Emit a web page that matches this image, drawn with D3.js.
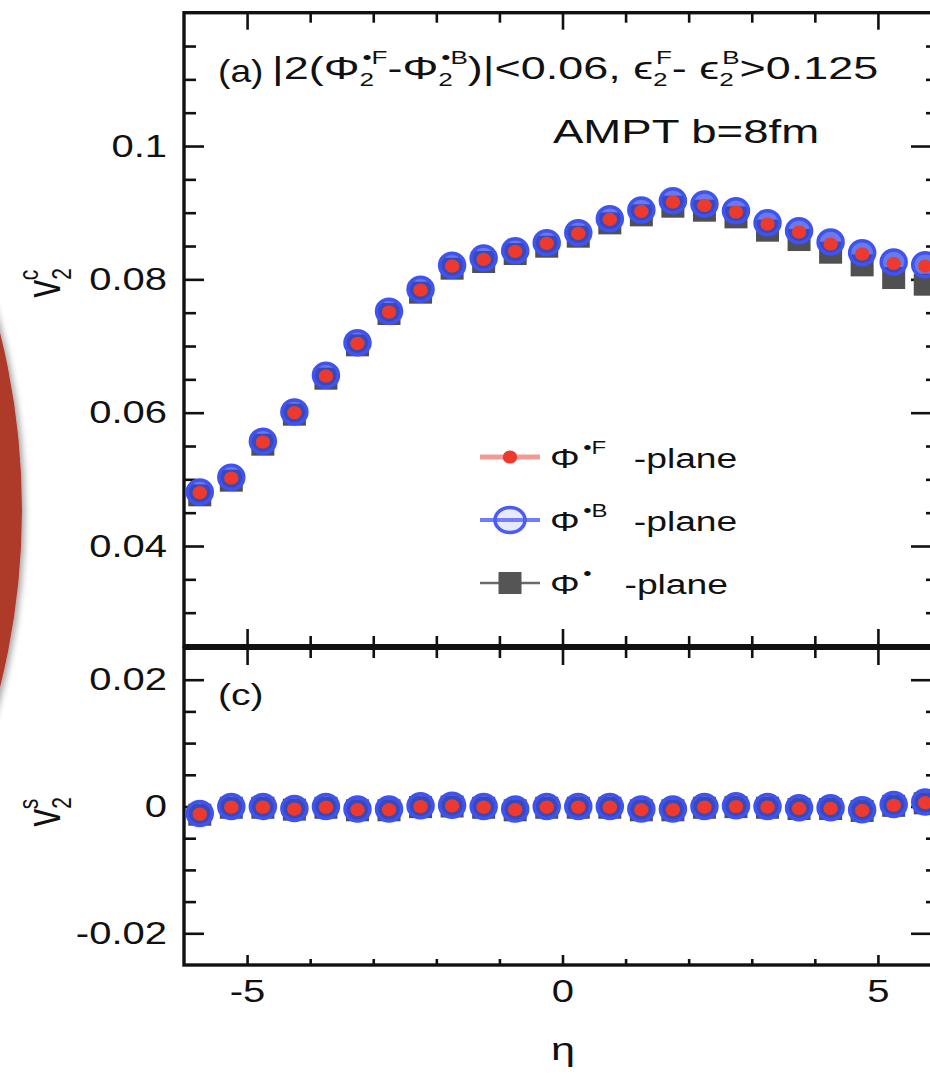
<!DOCTYPE html>
<html>
<head>
<meta charset="utf-8">
<script src="https://cdn.jsdelivr.net/npm/d3@7/dist/d3.min.js"></script>
<style>
  html, body { margin: 0; padding: 0; background: #fff; }
  svg { display: block; }
  text { font-family: "Liberation Sans", Arial, Helvetica, sans-serif; fill: #111; }
</style>
</head>
<body>
<svg id="chart" width="930" height="1074"></svg>
<script>
// pseudorapidity bins
const eta = [-5.75, -5.25, -4.75, -4.25, -3.75, -3.25, -2.75, -2.25, -1.75, -1.25, -0.75, -0.25,
             0.25, 0.75, 1.25, 1.75, 2.25, 2.75, 3.25, 3.75, 4.25, 4.75, 5.25, 5.75];

// panel (a): v2 cosine term
const v2cF = [0.0480, 0.0502, 0.0556, 0.0600, 0.0655, 0.0704, 0.0751, 0.0784, 0.0820, 0.0830, 0.0842, 0.0854,
              0.0869, 0.0890, 0.0902, 0.0916, 0.0911, 0.0901, 0.0883, 0.0871, 0.0853, 0.0838, 0.0824, 0.0820];
const v2cB = [0.0481, 0.0503, 0.0557, 0.0601, 0.0656, 0.0705, 0.0752, 0.0785, 0.0821, 0.0832, 0.0843, 0.0855,
              0.0870, 0.0891, 0.0904, 0.0918, 0.0913, 0.0903, 0.0885, 0.0873, 0.0856, 0.0840, 0.0826, 0.0822];
const v2c  = [0.0476, 0.0498, 0.0552, 0.0597, 0.0651, 0.0701, 0.0748, 0.0780, 0.0816, 0.0826, 0.0838, 0.0849,
              0.0864, 0.0884, 0.0896, 0.0909, 0.0903, 0.0893, 0.0873, 0.0859, 0.0840, 0.0821, 0.0802, 0.0792];

// panel (c): v2 sine term
const v2sF = [-0.0012, -0.0001, -0.0001, -0.0004, -0.0001, -0.0005, -0.0005, 0.0000, 0.0001, -0.0001, -0.0005, -0.0001,
              -0.0001, -0.0001, -0.0005, -0.0005, -0.0001, 0.0000, -0.0001, -0.0003, -0.0003, -0.0006, 0.0002, 0.0006];
const v2sB = [-0.0011, 0.0000, 0.0000, -0.0003, 0.0000, -0.0004, -0.0004, 0.0001, 0.0002, 0.0000, -0.0004, 0.0000,
              0.0000, 0.0000, -0.0004, -0.0004, 0.0000, 0.0001, 0.0000, -0.0002, -0.0002, -0.0005, 0.0003, 0.0007];
const v2s  = [-0.0013, -0.0002, -0.0002, -0.0005, -0.0002, -0.0006, -0.0006, -0.0001, 0.0000, -0.0002, -0.0006, -0.0002,
              -0.0002, -0.0002, -0.0006, -0.0006, -0.0002, -0.0001, -0.0002, -0.0004, -0.0004, -0.0007, 0.0001, 0.0005];

// axis ticks
const xMajor = [-5, 0, 5];
const xMinor = [-4, -3, -2, -1, 1, 2, 3, 4];
const yTopMajor = [0.04, 0.06, 0.08, 0.1];
const yTopMinor = [0.03, 0.035, 0.045, 0.05, 0.055, 0.065, 0.07, 0.075, 0.085, 0.09, 0.095, 0.105, 0.11, 0.115];
const yBotMajor = [-0.02, 0, 0.02];
const yBotMinor = [-0.015, -0.01, -0.005, 0.005, 0.01, 0.015];

// the figure's lettering is set wide
const SX = 1.35;
const SX_TICK = 1.25;

const svg = d3.select("#chart");

// backdrop disc on the left
const defs = svg.append("defs");
const sh = defs.append("filter").attr("id", "shadow").attr("x", "-10%").attr("y", "-10%").attr("width", "130%").attr("height", "130%");
sh.append("feDropShadow").attr("dx", 3).attr("dy", 2).attr("stdDeviation", 3).attr("flood-color", "#000").attr("flood-opacity", 0.35);
svg.append("circle").attr("cx", -705).attr("cy", 510).attr("r", 727)
  .attr("fill", "#ae3a29").attr("filter", "url(#shadow)");

const x = d3.scaleLinear().domain([-6, 6]).range([184, 941]);
const yTop = d3.scaleLinear().domain([0.025, 0.12]).range([646, 12.7]);
const yBot = d3.scaleLinear().domain([-0.025, 0.025]).range([965, 648]);

const fmt = d => String(d);

function panel(y, opts) {
  const g = svg.append("g");
  const [x0, x1] = x.range();
  const [yb, yt] = y.range();
  const tickStyle = sel => {
    sel.select(".domain").remove();
    sel.selectAll(".tick line").attr("stroke", "#111").attr("stroke-width", 2.6);
    sel.selectAll(".tick text").attr("font-size", opts.labelSize).attr("fill", "#111")
      .attr("font-family", "\"Liberation Sans\", Arial, sans-serif");
  };
  // left
  g.append("g").attr("transform", `translate(${x0},0)`)
    .call(d3.axisLeft(y).tickValues(opts.yMajor).tickSize(-20).tickFormat(fmt)).call(tickStyle)
    .selectAll(".tick text").attr("x", 0).attr("transform", `translate(-17,0) scale(${SX_TICK},1)`);
  g.append("g").attr("transform", `translate(${x0},0)`)
    .call(d3.axisLeft(y).tickValues(opts.yMinor).tickSize(-12).tickFormat("")).call(tickStyle);
  // right
  g.append("g").attr("transform", `translate(${x1},0)`)
    .call(d3.axisRight(y).tickValues(opts.yMajor).tickSize(-30).tickFormat("")).call(tickStyle);
  g.append("g").attr("transform", `translate(${x1},0)`)
    .call(d3.axisRight(y).tickValues(opts.yMinor).tickSize(-15).tickFormat("")).call(tickStyle);
  // top
  g.append("g").attr("transform", `translate(0,${yt})`)
    .call(d3.axisTop(x).tickValues(xMajor).tickSize(-opts.topMajor).tickFormat("")).call(tickStyle);
  g.append("g").attr("transform", `translate(0,${yt})`)
    .call(d3.axisTop(x).tickValues(xMinor).tickSize(-opts.topMinor).tickFormat("")).call(tickStyle);
  // bottom
  g.append("g").attr("transform", `translate(0,${yb})`)
    .call(d3.axisBottom(x).tickValues(xMajor).tickSize(-opts.botMajor).tickPadding(14)
      .tickFormat(opts.xLabels ? fmt : "")).call(tickStyle)
    .selectAll(".tick text").attr("transform", `scale(${SX_TICK},1)`);
  g.append("g").attr("transform", `translate(0,${yb})`)
    .call(d3.axisBottom(x).tickValues(xMinor).tickSize(-opts.botMinor).tickFormat("")).call(tickStyle);
  // frame
  g.append("rect").attr("x", x0).attr("y", yt).attr("width", x1 - x0).attr("height", yb - yt)
    .attr("fill", "none").attr("stroke", "#111").attr("stroke-width", 3.4);
  return g;
}

function markers(y, gray, blue, red) {
  const g = svg.append("g");
  g.selectAll("rect.g").data(eta).join("rect").attr("class", "g")
    .attr("x", (d) => x(d) - 11.5).attr("y", (d, i) => y(gray[i]) - 11)
    .attr("width", 23).attr("height", 22).attr("fill", "#505050");
  g.selectAll("ellipse.b").data(eta).join("ellipse").attr("class", "b")
    .attr("cx", d => x(d)).attr("cy", (d, i) => y(blue[i])).attr("rx", 12.5).attr("ry", 12)
    .attr("fill", "rgba(50,70,225,0.72)").attr("stroke", "#3f52f2").attr("stroke-width", 3.5);
  g.selectAll("ellipse.r").data(eta).join("ellipse").attr("class", "r")
    .attr("cx", d => x(d)).attr("cy", (d, i) => y(red[i])).attr("rx", 7.2).attr("ry", 6.6)
    .attr("fill", "#ee3a2e");
}

panel(yTop, { yMajor: yTopMajor, yMinor: yTopMinor, labelSize: 32, topMajor: 17, topMinor: 10, botMajor: 17, botMinor: 10, xLabels: false });
panel(yBot, { yMajor: yBotMajor, yMinor: yBotMinor, labelSize: 32, topMajor: 17, topMinor: 10, botMajor: 10, botMinor: 6, xLabels: true });

// shared border between the two panels
svg.append("line").attr("x1", x.range()[0]).attr("x2", x.range()[1])
  .attr("y1", 647).attr("y2", 647).attr("stroke", "#111").attr("stroke-width", 6);

markers(yTop, v2c, v2cB, v2cF);
markers(yBot, v2s, v2sB, v2sF);

// wide-set text helper
function wide(px, py, size, sx = SX) {
  return svg.append("text").attr("transform", `translate(${px},${py}) scale(${sx},1)`).attr("font-size", size);
}

// panel captions
wide(218, 82, 31, 1.2).text("(a)");
const cut = wide(272, 79, 31, 1.45);
const seq = [
  ["t", "|2(Φ"], ["sub", "2"], ["sup", "•F"], ["t", "-Φ"], ["sub", "2"], ["sup", "•B"],
  ["t", ")|<0.06, ϵ"], ["sub", "2"], ["sup", "F"], ["t", "- ϵ"], ["sub", "2"], ["sup", "B"], ["t", ">0.125"]
];
let level = 0;
seq.forEach(([k, s]) => {
  if (k === "t") { cut.append("tspan").attr("dy", -level).attr("font-size", 31).text(s); level = 0; }
  else if (k === "sub") { cut.append("tspan").attr("dy", 7 - level).attr("font-size", 18).text(s); level = 7; }
  else { cut.append("tspan").attr("dx", -8).attr("dy", -15 - level).attr("font-size", 18).text(s); level = -15; }
});
wide(553, 143, 33, 1.38).text("AMPT b=8fm");
wide(218, 705, 30, 1.3).text("(c)");

// axis titles
function yTitle(cx, cy, sup) {
  const t = svg.append("text").attr("transform", `translate(${cx},${cy}) scale(${SX},1) rotate(-90)`)
    .attr("text-anchor", "middle").attr("font-size", 36);
  t.append("tspan").text("v");
  t.append("tspan").attr("dy", 8).attr("font-size", 21).text("2");
  t.append("tspan").attr("dx", -12).attr("dy", -24).attr("font-size", 21).text(sup);
}
yTitle(60, 283, "c");
yTitle(60, 812, "s");
svg.append("text").attr("transform", `translate(563,1060) scale(${SX},1)`)
  .attr("text-anchor", "middle").attr("font-size", 32).text("η");

// legend
const legend = [
  { key: "F", y: 457 }, { key: "B", y: 520 }, { key: "", y: 583 }
];
const lg = svg.append("g");
legend.forEach(d => {
  if (d.key === "F") {
    lg.append("line").attr("x1", 480).attr("x2", 540).attr("y1", d.y).attr("y2", d.y).attr("stroke", "#f39a96").attr("stroke-width", 5);
    lg.append("ellipse").attr("cx", 510).attr("cy", d.y).attr("rx", 7.2).attr("ry", 6.6).attr("fill", "#ee3a2e");
  } else if (d.key === "B") {
    lg.append("line").attr("x1", 480).attr("x2", 540).attr("y1", d.y).attr("y2", d.y).attr("stroke", "#6f7dff").attr("stroke-width", 4);
    lg.append("ellipse").attr("cx", 510).attr("cy", d.y).attr("rx", 15).attr("ry", 12.5)
      .attr("fill", "rgba(120,140,255,0.18)").attr("stroke", "#4a5cf5").attr("stroke-width", 3.5);
  } else {
    lg.append("line").attr("x1", 480).attr("x2", 540).attr("y1", d.y).attr("y2", d.y).attr("stroke", "#6a6a6a").attr("stroke-width", 2.5);
    lg.append("rect").attr("x", 498.5).attr("y", d.y - 11).attr("width", 23).attr("height", 22).attr("fill", "#555");
  }
  const t = lg.append("text").attr("transform", `translate(550,${d.y + 11}) scale(1.33,1)`).attr("font-size", 28);
  t.append("tspan").text("Φ");
  t.append("tspan").attr("x", 25).attr("dy", -14).attr("font-size", 18).text("•" + d.key);
  t.append("tspan").attr("x", d.key ? 63 : 56).attr("dy", 14).attr("font-size", 28).text("-plane");
});
</script>
</body>
</html>
